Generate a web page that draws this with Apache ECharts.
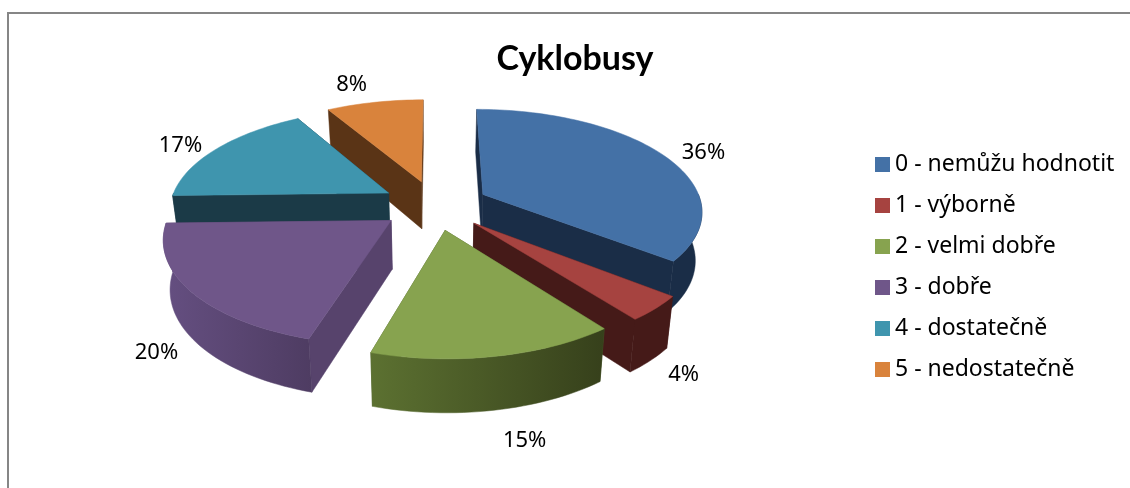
<!DOCTYPE html>
<html>
<head>
<meta charset="utf-8">
<title>Cyklobusy</title>
<script src="https://cdn.jsdelivr.net/npm/echarts@6/dist/echarts.min.js"></script>
<style>
  html, body { margin: 0; padding: 0; background: #fff; }
  #chart { width: 1130px; height: 488px; }
</style>
</head>
<body>
<div id="chart"></div>
<script>
const categories = ['0 - nemůžu hodnotit', '1 - výborně', '2 - velmi dobře', '3 - dobře', '4 - dostatečně', '5 - nedostatečně'];
// read from the slice edges, the labels round them to 36, 4, 15, 20, 17, 8
const shares = [35.7, 3.9, 15.0, 20.0, 17.0, 8.4];

const topColors = ['#4471a6', '#a64340', '#87a34f', '#6f5689', '#3f95ae', '#d9833c'];
const edgeColors = ['#1a2d47', '#451a18', '#4a5c2a', '#57436c', '#1b3a47', '#5a3416'];
const rimFrom = ['#1a2d47', '#451a18', '#5c7131', '#654f81', '#1b3a47', '#5a3416'];
const rimTo = ['#1a2d47', '#451a18', '#36401b', '#4e3c62', '#1b3a47', '#5a3416'];
// back slices are painted first
const paintOrder = [5, 4, 0, 1, 3, 2];
// nudges of the percent labels away from the rim
const labelShift = [[41, -2], [28, 66], [29, 84], [-34, 62], [-36, -3], [-23, -18]];

// fake 3D: circle on a tilted plane with some perspective
const cx = 435, cy = 205, R = 219, explode = 54, tilt = 0.46, persp = 0.15, depth = 48;

const total = shares.reduce((a, b) => a + b, 0);
const starts = [];
shares.reduce((acc, v, i) => { starts[i] = acc; return acc + v; }, 0);

function project(X, Y) {
  const w = 1 - persp * Y / R;
  return [cx + X / w, cy + tilt * Y / w];
}
function lower(p, Y) {
  // bottom face sits a bit closer to the middle
  return [p[0] + (cx - p[0]) * 0.025, p[1] + depth * (1 + 0.1 * Y / R)];
}

function slicePoints(i, a0, a1) {
  const mid = (starts[i] + shares[i] / 2) / total * 2 * Math.PI;
  const ox = Math.sin(mid) * explode, oy = -Math.cos(mid) * explode;
  const n = Math.max(2, Math.ceil((a1 - a0) / 0.03));
  const rim = [];
  for (let k = 0; k <= n; k++) {
    const a = a0 + (a1 - a0) * k / n;
    const X = ox + Math.sin(a) * R, Y = oy - Math.cos(a) * R;
    rim.push({ top: project(X, Y), bottom: lower(project(X, Y), Y), Y: Y });
  }
  return { apex: { top: project(ox, oy), bottom: lower(project(ox, oy), oy), Y: oy }, rim: rim };
}

function poly(points, fill, z2) {
  return { type: 'polygon', z2: z2, shape: { points: points }, style: { fill: fill, stroke: fill, lineWidth: 0.5 } };
}

function renderSlice(i) {
  const a0 = starts[i] / total * 2 * Math.PI;
  const a1 = (starts[i] + shares[i]) / total * 2 * Math.PI;
  const s = slicePoints(i, a0, a1);
  const first = s.rim[0], last = s.rim[s.rim.length - 1];
  const walls = [first, last].sort((a, b) => a.Y - b.Y);
  const children = walls.map((e, j) =>
    poly([s.apex.top, e.top, e.bottom, s.apex.bottom], edgeColors[i], j + 1));

  // only the part of the rim that faces us
  const f0 = Math.max(a0, Math.PI / 2), f1 = Math.min(a1, Math.PI * 1.5);
  if (f1 > f0) {
    const r = slicePoints(i, f0, f1).rim;
    const pts = r.map(p => p.top).concat(r.map(p => p.bottom).reverse());
    children.push(poly(pts, new echarts.graphic.LinearGradient(0, 0, 1, 0, [
      { offset: 0, color: rimFrom[i] }, { offset: 1, color: rimTo[i] }
    ]), 3));
  }
  children.push(poly([s.apex.top].concat(s.rim.map(p => p.top)), topColors[i], 4));

  const m = slicePoints(i, (a0 + a1) / 2, (a0 + a1) / 2 + 0.01).rim[0].top;
  children.push({
    type: 'text', z2: 5,
    style: {
      x: m[0] + labelShift[i][0], y: m[1] + labelShift[i][1],
      text: Math.round(shares[i]) + '%', fill: '#000', font: '22px "Noto Sans", sans-serif',
      align: 'center', verticalAlign: 'middle'
    }
  });
  return { type: 'group', children: children };
}

const chart = echarts.init(document.getElementById('chart'));
chart.setOption({
  animation: false,
  backgroundColor: '#fff',
  title: {
    text: 'Cyklobusy', left: 570, top: 37, textAlign: 'center',
    textStyle: { fontFamily: 'Lato, "Noto Sans", sans-serif', fontWeight: 'bold', fontSize: 34, color: '#000' }
  },
  legend: {
    orient: 'vertical', left: 875, top: 153, padding: 0, icon: 'rect',
    itemWidth: 15, itemHeight: 15, itemGap: 18,
    data: categories,
    textStyle: { fontFamily: '"Noto Sans", sans-serif', fontSize: 23, color: '#000', lineHeight: 22 }
  },
  graphic: [{
    type: 'rect', silent: true, shape: { x: 8, y: 13, width: 1300, height: 700 },
    style: { fill: 'transparent', stroke: '#868686', lineWidth: 2 }
  }],
  series: categories.map((name, i) => ({
    type: 'custom',
    name: name,
    coordinateSystem: 'none',
    z: 2 + paintOrder.indexOf(i),
    silent: true,
    itemStyle: { color: topColors[i] },
    data: [shares[i]],
    renderItem: () => renderSlice(i)
  }))
});
</script>
</body>
</html>
